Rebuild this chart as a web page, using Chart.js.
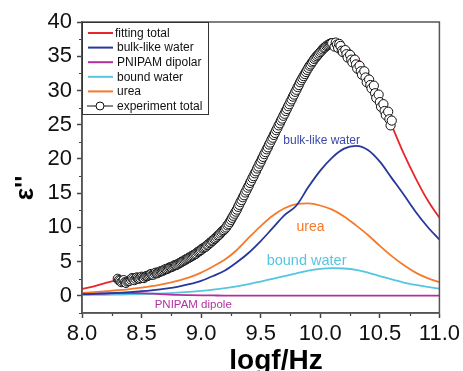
<!DOCTYPE html>
<html>
<head>
<meta charset="utf-8">
<script src="https://cdn.jsdelivr.net/npm/chart.js@4"></script>
<style>
  html, body { margin: 0; padding: 0; background: #fff; }
  #wrap { width: 463px; height: 371px; }
</style>
</head>
<body>
<div id="wrap"><canvas id="myChart" width="463" height="371"></canvas></div>
<script>
// fitted components, every 0.1 in log f
var logf = [8.0, 8.1, 8.2, 8.3, 8.4, 8.5, 8.6, 8.7, 8.8, 8.9, 9.0, 9.1, 9.2, 9.3, 9.4, 9.5,
            9.6, 9.7, 9.8, 9.9, 10.0, 10.1, 10.2, 10.3, 10.4, 10.5, 10.6, 10.7, 10.8, 10.9, 11.0];
var fittingTotal = [1.0, 1.4, 1.9, 2.3, 2.6, 2.9, 3.3, 3.9, 4.5, 5.3, 6.4, 8.0, 10.0, 12.9, 16.3, 20.0,
                    23.6, 27.0, 30.2, 33.2, 35.4, 36.6, 36.5, 35.0, 32.6, 29.2, 24.9, 20.8, 17.2, 14.0, 11.4];
var bulkWater = [0.25, 0.3, 0.38, 0.45, 0.55, 0.68, 0.85, 1.05, 1.3, 1.7, 2.2, 2.9, 3.7, 4.9, 6.3, 8.0,
                 9.9, 11.8, 13.2, 15.9, 18.3, 20.2, 21.5, 21.9, 21.3, 19.6, 17.2, 14.8, 12.3, 10.1, 8.2];
var pnipam = [0.25, 0.3, 0.35, 0.4, 0.42, 0.4, 0.32, 0.22, 0.14, 0.1, 0.07, 0.06, 0.05, 0.05, 0.05, 0.05,
              0.05, 0.05, 0.05, 0.05, 0.05, 0.05, 0.05, 0.05, 0.05, 0.05, 0.05, 0.05, 0.05, 0.05, 0.05];
var boundWater = [0.12, 0.14, 0.16, 0.19, 0.22, 0.26, 0.31, 0.38, 0.47, 0.58, 0.72, 0.9, 1.12, 1.4, 1.72, 2.1,
                  2.5, 2.9, 3.3, 3.7, 3.95, 4.05, 4.0, 3.8, 3.4, 2.9, 2.4, 1.95, 1.6, 1.3, 1.05];
var urea = [0.45, 0.55, 0.68, 0.82, 1.0, 1.2, 1.45, 1.8, 2.2, 2.7, 3.4, 4.3, 5.3, 6.7, 8.5, 10.2,
            11.7, 12.8, 13.4, 13.5, 13.2, 12.6, 11.6, 10.3, 8.9, 7.3, 5.8, 4.5, 3.4, 2.6, 2.0];

// measured points
var expLogf = [
  8.30, 8.31, 8.32, 8.33, 8.34, 8.35, 8.36, 8.37, 8.38, 8.39,
  8.40, 8.41, 8.42, 8.43, 8.44, 8.45, 8.46, 8.47, 8.48, 8.49,
  8.50, 8.51, 8.52, 8.53, 8.54, 8.55, 8.56, 8.57, 8.58, 8.59,
  8.60, 8.61, 8.62, 8.63, 8.64, 8.65, 8.66, 8.67, 8.68, 8.69,
  8.70, 8.71, 8.72, 8.73, 8.74, 8.75, 8.76, 8.77, 8.78, 8.79,
  8.80, 8.81, 8.82, 8.83, 8.84, 8.85, 8.86, 8.87, 8.88, 8.89,
  8.90, 8.91, 8.92, 8.93, 8.94, 8.95, 8.96, 8.97, 8.98, 8.99,
  9.00, 9.01, 9.02, 9.03, 9.04, 9.05, 9.06, 9.07, 9.08, 9.09,
  9.10, 9.11, 9.12, 9.13, 9.14, 9.15, 9.16, 9.17, 9.18, 9.19,
  9.20, 9.21, 9.22, 9.23, 9.24, 9.25, 9.26, 9.27, 9.28, 9.29,
  9.30, 9.31, 9.32, 9.33, 9.34, 9.35, 9.36, 9.37, 9.38, 9.39,
  9.40, 9.41, 9.42, 9.43, 9.44, 9.45, 9.46, 9.47, 9.48, 9.49,
  9.50, 9.51, 9.52, 9.53, 9.54, 9.55, 9.56, 9.57, 9.58, 9.59,
  9.60, 9.61, 9.62, 9.63, 9.64, 9.65, 9.66, 9.67, 9.68, 9.69,
  9.70, 9.71, 9.72, 9.73, 9.74, 9.75, 9.76, 9.77, 9.78, 9.79,
  9.80, 9.81, 9.82, 9.83, 9.84, 9.85, 9.86, 9.87, 9.88, 9.89,
  9.90, 9.91, 9.92, 9.93, 9.94, 9.95, 9.96, 9.97, 9.98, 9.99,
  10.00, 10.01, 10.02, 10.03, 10.04, 10.05, 10.06, 10.07, 10.08, 10.09,
  10.10, 10.12, 10.13, 10.14, 10.15, 10.16, 10.17, 10.18, 10.19, 10.21,
  10.22, 10.23, 10.25, 10.26, 10.27, 10.29, 10.30, 10.31, 10.33, 10.34,
  10.35, 10.37, 10.38, 10.39, 10.41, 10.42, 10.43, 10.45, 10.46, 10.47,
  10.49, 10.50, 10.51, 10.53, 10.54, 10.55, 10.57, 10.58, 10.59, 10.60];
var expTotal = [
  2.5, 2.3, 2.2, 2.0, 2.1, 2.3, 2.0, 1.9, 2.1, 2.2,
  2.2, 2.4, 2.6, 2.5, 2.3, 2.5, 2.7, 2.6, 2.5, 2.6,
  2.8, 2.7, 2.6, 2.8, 2.9, 2.9, 3.0, 3.1, 3.2, 3.1,
  3.1, 3.3, 3.4, 3.3, 3.4, 3.5, 3.6, 3.6, 3.7, 3.8,
  3.9, 3.9, 4.0, 4.1, 4.2, 4.2, 4.3, 4.4, 4.5, 4.5,
  4.6, 4.7, 4.8, 4.9, 5.0, 5.1, 5.2, 5.3, 5.4, 5.5,
  5.6, 5.7, 5.8, 5.9, 6.0, 6.1, 6.2, 6.4, 6.5, 6.6,
  6.7, 6.9, 7.0, 7.1, 7.2, 7.4, 7.5, 7.7, 7.8, 8.0,
  8.1, 8.3, 8.4, 8.6, 8.8, 8.9, 9.1, 9.3, 9.5, 9.6,
  9.8, 10.0, 10.3, 10.5, 10.8, 11.1, 11.4, 11.7, 12.0, 12.3,
  12.6, 13.0, 13.3, 13.7, 14.0, 14.4, 14.7, 15.1, 15.4, 15.8,
  16.1, 16.5, 16.8, 17.2, 17.5, 17.9, 18.2, 18.6, 18.9, 19.3,
  19.6, 20.0, 20.3, 20.7, 21.0, 21.4, 21.7, 22.1, 22.4, 22.8,
  23.1, 23.5, 23.8, 24.2, 24.5, 24.9, 25.2, 25.6, 25.9, 26.3,
  26.6, 27.0, 27.3, 27.7, 28.0, 28.4, 28.7, 29.1, 29.4, 29.8,
  30.1, 30.5, 30.8, 31.2, 31.5, 31.8, 32.1, 32.4, 32.7, 33.0,
  33.3, 33.6, 33.8, 34.1, 34.3, 34.6, 34.8, 35.0, 35.2, 35.4,
  35.6, 35.8, 36.0, 36.2, 36.3, 36.5, 36.6, 36.7, 36.8, 36.9,
  36.9, 36.4, 37.0, 36.7, 36.2, 36.8, 36.5, 35.8, 35.6, 35.9,
  35.3, 34.8, 35.2, 34.5, 34.1, 34.5, 33.8, 33.2, 33.6, 32.8,
  32.3, 32.8, 31.9, 31.2, 31.6, 30.8, 30.3, 30.7, 29.6, 28.9,
  29.4, 28.3, 27.6, 28.0, 27.0, 26.4, 26.9, 25.8, 24.9, 25.6];

// axis ticks
var xMajor = [8.0, 8.5, 9.0, 9.5, 10.0, 10.5, 11.0];
var xMinor = [8.25, 8.75, 9.25, 9.75, 10.25, 10.75];
var yMajor = [0, 5, 10, 15, 20, 25, 30, 35, 40];
var yMinor = [-2.5, 2.5, 7.5, 12.5, 17.5, 22.5, 27.5, 32.5, 37.5];

var RED = '#e8262b', BLUE = '#27389c', MAGENTA = '#b2319f', CYAN = '#55c6de', ORANGE = '#f67a2c';
var FONT = 'Arial, "Liberation Sans", sans-serif';

function toPoints(xs, ys) {
  return xs.map(function (x, i) { return { x: x, y: ys[i] }; });
}

function curve(label, ys, color, order) {
  return {
    label: label,
    data: toPoints(logf, ys),
    showLine: true,
    borderColor: color,
    backgroundColor: color,
    borderWidth: 1.8,
    pointRadius: 0,
    tension: 0.4,
    cubicInterpolationMode: 'monotone',
    order: order
  };
}

var chartData = {
  datasets: [
    {
      label: 'experiment total',
      data: toPoints(expLogf, expTotal),
      showLine: false,
      pointStyle: 'circle',
      pointRadius: 4.6,
      pointBorderWidth: 1,
      pointBorderColor: '#111',
      pointBackgroundColor: '#fff',
      order: 0
    },
    curve('fitting total', fittingTotal, RED, 1),
    curve('bulk-like water', bulkWater, BLUE, 2),
    curve('PNIPAM dipolar', pnipam, MAGENTA, 3),
    curve('bound water', boundWater, CYAN, 4),
    curve('urea', urea, ORANGE, 5)
  ]
};

var legendItems = [
  { text: 'fitting total', color: RED },
  { text: 'bulk-like water', color: BLUE },
  { text: 'PNIPAM dipolar', color: MAGENTA },
  { text: 'bound water', color: CYAN },
  { text: 'urea', color: ORANGE },
  { text: 'experiment total', color: '#111', marker: true }
];

var notes = [
  { text: 'bulk-like water', x: 9.69, y: 22.2, color: '#3a4aa6', size: 12 },
  { text: 'urea', x: 9.80, y: 9.5, color: ORANGE, size: 14 },
  { text: 'bound water', x: 9.55, y: 4.5, color: CYAN, size: 14.5 },
  { text: 'PNIPAM dipole', x: 8.61, y: -1.75, color: MAGENTA, size: 11.5 }
];

var extras = {
  id: 'extras',
  afterDraw: function (chart) {
    var ctx = chart.ctx, a = chart.chartArea;
    var xs = chart.scales.x, ys = chart.scales.y;
    ctx.save();

    // minor ticks
    ctx.strokeStyle = '#444';
    ctx.lineWidth = 1.2;
    ctx.beginPath();
    xMinor.forEach(function (v) {
      var px = Math.round(xs.getPixelForValue(v)) + 0.5;
      ctx.moveTo(px, a.bottom);
      ctx.lineTo(px, a.bottom + 3);
    });
    yMinor.forEach(function (v) {
      var py = Math.round(ys.getPixelForValue(v)) + 0.5;
      ctx.moveTo(a.left, py);
      ctx.lineTo(a.left - 3, py);
    });
    ctx.stroke();

    // frame
    ctx.strokeStyle = '#555';
    ctx.lineWidth = 1.5;
    ctx.strokeRect(a.left, a.top, a.right - a.left, a.bottom - a.top);

    // legend
    var lx = a.left, ly = a.top + 0.5;
    ctx.fillStyle = '#fff';
    ctx.fillRect(lx, ly, 126, 92);
    ctx.strokeStyle = '#333';
    ctx.lineWidth = 1;
    ctx.strokeRect(lx + 0.5, ly, 126, 92);
    ctx.font = '12px ' + FONT;
    ctx.textBaseline = 'middle';
    ctx.textAlign = 'left';
    legendItems.forEach(function (it, i) {
      var cy = ly + 10.5 + i * 14.6;
      ctx.strokeStyle = it.color;
      ctx.lineWidth = it.marker ? 1 : 2;
      ctx.beginPath();
      ctx.moveTo(lx + (it.marker ? 5 : 6), cy);
      ctx.lineTo(lx + 31, cy);
      ctx.stroke();
      if (it.marker) {
        ctx.fillStyle = '#fff';
        ctx.beginPath();
        ctx.arc(lx + 18, cy, 4, 0, Math.PI * 2);
        ctx.fill();
        ctx.stroke();
      }
      ctx.fillStyle = '#111';
      ctx.fillText(it.text, lx + (i === 0 ? 33 : 35), cy + 0.5);
    });

    // curve labels
    ctx.textBaseline = 'alphabetic';
    notes.forEach(function (n) {
      ctx.font = n.size + 'px ' + FONT;
      ctx.fillStyle = n.color;
      ctx.fillText(n.text, xs.getPixelForValue(n.x), ys.getPixelForValue(n.y));
    });

    // axis titles
    ctx.fillStyle = '#000';
    ctx.font = 'bold 28px ' + FONT;
    ctx.textAlign = 'center';
    ctx.fillText('logf/Hz', 276, 369);
    ctx.translate(33, 188);
    ctx.rotate(-Math.PI / 2);
    ctx.font = 'bold 26px ' + FONT;
    ctx.fillText("\u03b5''", 0, 0);
    ctx.restore();
  }
};

var chartOptions = {
  responsive: false,
  animation: false,
  layout: { padding: { left: 0, top: 22, right: 22, bottom: 0 } },
  plugins: { legend: { display: false }, tooltip: { enabled: false } },
  scales: {
    x: {
      type: 'linear',
      min: 8, max: 11,
      afterBuildTicks: function (s) { s.ticks = xMajor.map(function (v) { return { value: v }; }); },
      afterFit: function (s) { s.height = 58; },
      ticks: {
        color: '#111', font: { size: 22, family: FONT }, padding: 3,
        maxRotation: 0, autoSkip: false,
        callback: function (v) { return Number(v).toFixed(1); }
      },
      grid: { drawOnChartArea: false, tickLength: 5, tickColor: '#444', tickWidth: 1.5 },
      border: { color: '#555', width: 1.5 }
    },
    y: {
      type: 'linear',
      min: -2.5, max: 40,
      afterBuildTicks: function (s) { s.ticks = yMajor.map(function (v) { return { value: v }; }); },
      afterFit: function (s) { s.width = 82; },
      ticks: {
        color: '#111', font: { size: 22, family: FONT }, padding: 5,
        callback: function (v) { return String(v); }
      },
      grid: { drawOnChartArea: false, tickLength: 5, tickColor: '#444', tickWidth: 1.5 },
      border: { color: '#555', width: 1.5 }
    }
  }
};

var element = document.getElementById('myChart').getContext('2d');
var chart = new Chart(element, { type: 'scatter', data: chartData, options: chartOptions, plugins: [extras] });
</script>
</body>
</html>
